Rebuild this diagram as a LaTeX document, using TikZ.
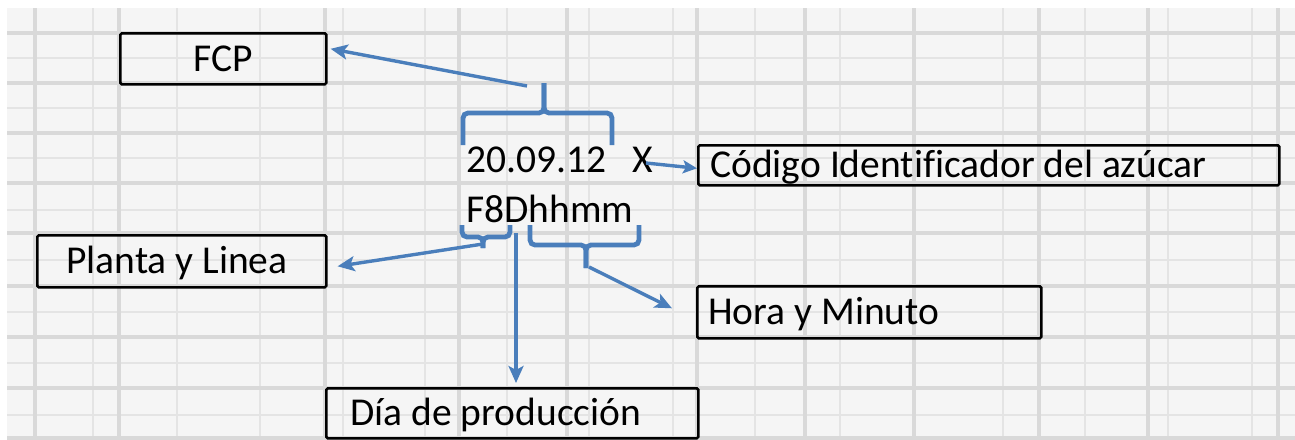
\documentclass[tikz,border=0pt]{standalone}
\usepackage{fontspec}
\setmainfont{Carlito}[Ligatures=CommonOff]
\usetikzlibrary{arrows.meta}

\definecolor{azul}{HTML}{4A7EBB}
\definecolor{rejilla}{HTML}{D9D9D9}
\definecolor{rejillafina}{HTML}{E4E4E4}
\definecolor{papel}{HTML}{F5F5F5}
\newcommand{\celda}{\fontsize{39.5}{46}\selectfont}

\tikzset{
  caja/.style={draw=black, line width=2.6pt, rounded corners=1.5pt, anchor=north west, inner ysep=0pt, align=flush left, text height=25pt, text depth=0pt, font=\celda},
  llave/.style={azul, line width=4.8pt, rounded corners=5pt},
  flecha/.style={azul, line width=3.4pt, -{Stealth[length=17pt,width=15pt,inset=4pt]}},
  texto/.style={anchor=base west, inner sep=0pt, font=\celda}
}

\begin{document}
\begin{tikzpicture}[x=1pt,y=-1pt]
\useasboundingbox (0,0) rectangle (1295,439);
% hoja cuadriculada
\fill[white] (0,0) rectangle (1295,439);
\fill[papel] (7,8) rectangle (1295,439);
\foreach \x in {93,177,260,343,425,507,589,673,755,840,1003,1085,1168,1252} \draw[rejillafina, line width=1.3pt] (\x,8) -- (\x,439);
\foreach \y in {58,108,158,210,260,312,363,415} \draw[rejillafina, line width=1.3pt] (7,\y) -- (1295,\y);
\foreach \x in {35,119,325,459,567,697,805,914,1039,1148,1278} \draw[rejilla, line width=3.6pt] (\x,8) -- (\x,439);
\foreach \y in {33,83,133,183,233,286,337,388,438} \draw[rejilla, line width=3.6pt] (7,\y) -- (1295,\y);

% cajas
\node[caja, text width=200pt, inner xsep=3pt, align=center, minimum height=51pt] (fcp) at (119,32) {FCP};
\node[caja, text width=557pt, inner xsep=12pt, minimum height=40pt] (codigo) at (697,144) {Código Identificador del azúcar};
\node[caja, text width=231pt, inner xsep=29pt, minimum height=52pt] (planta) at (36,234) {Planta y Linea};
\node[caja, text width=322pt, inner xsep=11pt, minimum height=52pt] (hora) at (696,285) {Hora y Minuto};
\node[caja, text width=324pt, inner xsep=24pt, minimum height=50pt] (dia) at (325,387) {Día de producción};

% textos del codigo
\node[texto] (fecha) at (466,172) {20.09.12\hspace{26pt}X};
\node[texto] (lote) at (466,222) {F8Dhhmm};

% llaves
\draw[llave] (463,145) -- (463,113) -- (544,113) -- (544,83);
\draw[llave] (612,145) -- (612,113) -- (544,113) -- (544,83);
\draw[llave] (462,225) -- (462,237) -- (483,237) -- (483,248);
\draw[llave] (510,225) -- (510,237) -- (483,237) -- (483,248);
\draw[llave] (530,225) -- (530,245) -- (586,245) -- (586,268);
\draw[llave] (639,225) -- (639,245) -- (586,245) -- (586,268);

% flechas
\coordinate (fcpDesde) at (527,86);
\coordinate (xDesde) at (646,163);
\coordinate (plantaDesde) at (483,244);
\coordinate (diaDesde) at (516,233);
\coordinate (horaDesde) at (589,267);
\draw[flecha] (fcpDesde) -- ([xshift=3pt,yshift=10pt]fcp.east);
\draw[flecha, -{Stealth[length=14pt,width=13pt,inset=3pt]}] (xDesde) -- ([yshift=-3pt]codigo.west);
\draw[flecha] (plantaDesde) -- ([xshift=10pt,yshift=-5pt]planta.east);
\draw[flecha, shorten >=4pt] (diaDesde) -- (diaDesde |- dia.north);
\draw[flecha] (horaDesde) -- ([xshift=-24pt,yshift=4pt]hora.west);
\end{tikzpicture}
\end{document}
